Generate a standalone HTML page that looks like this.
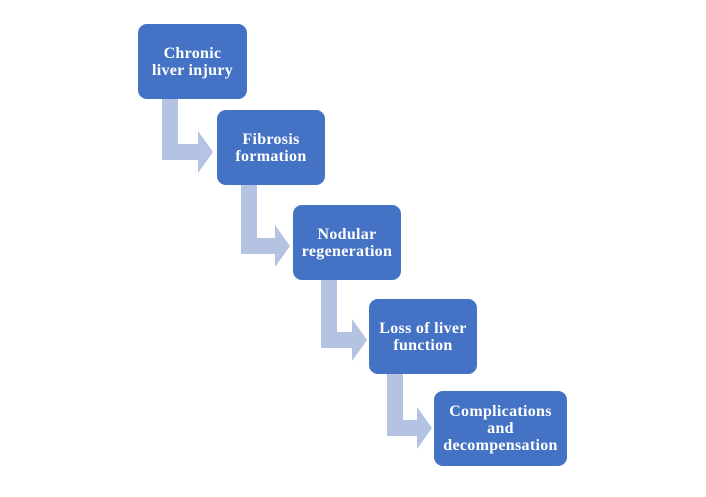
<!DOCTYPE html>
<html><head><style>
body{margin:0;width:706px;height:497px;background:#fff;position:relative;overflow:hidden}
.b{position:absolute;background:#4472C4;border-radius:9px;color:#fff;font:bold 16px/17px "Liberation Serif",serif;letter-spacing:0.3px;display:flex;align-items:center;justify-content:center;text-align:center}
svg{position:absolute;left:0;top:0}
</style></head><body>
<svg width="706" height="497">
<g fill="#B4C3E1">
<path d="M162 99h16v45h20v-13l15 21-15 21v-13h-36z"/>
<path d="M241 185h16v53h18v-13l15 21-15 21v-13h-34z"/>
<path d="M321 280h16v52h15v-13l15 21-15 21v-13h-31z"/>
<path d="M387 374h16v46h14v-13l15 21-15 21v-13h-30z"/>
</g>
</svg>
<div class="b" style="left:138px;top:24px;width:109px;height:75px">Chronic<br>liver injury</div>
<div class="b" style="left:217px;top:110px;width:108px;height:75px">Fibrosis<br>formation</div>
<div class="b" style="left:293px;top:205px;width:108px;height:75px">Nodular<br>regeneration</div>
<div class="b" style="left:369px;top:299px;width:108px;height:75px">Loss of liver<br>function</div>
<div class="b" style="left:434px;top:391px;width:133px;height:75px">Complications<br>and<br>decompensation</div>
</body></html>
